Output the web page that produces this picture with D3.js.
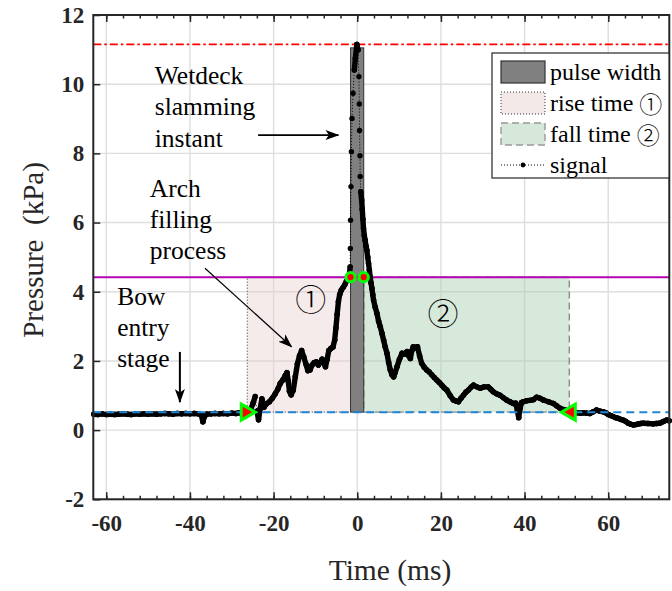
<!DOCTYPE html>
<html>
<head>
<meta charset="utf-8">
<script src="https://cdn.jsdelivr.net/npm/d3@7"></script>
<style>
  body { margin: 0; background: #fff; }
  svg { display: block; }
  text { font-family: "Liberation Serif", "Times New Roman", serif; }
  .circ { font-family: "Noto Sans CJK JP", "Noto Sans CJK SC", serif; font-weight: 300; }
</style>
</head>
<body>
<div id="chart"></div>
<script>
// tick values
const xTicks = [-60, -40, -20, 0, 20, 40, 60];
const xMinorTicks = d3.range(-60, 76, 4);
const yTicks = [-2, 0, 2, 4, 6, 8, 10, 12];

// reference levels (kPa)
const peakLevel = 11.15;
const thresholdLevel = 4.42;
const baseLevel = 0.52;

// time windows (ms)
const pulseWindow = [-1.6, 1.55];
const pulseTop = 11.05;
const riseWindow = [-26.3, -1.6];
const fallWindow = [1.55, 50.7];

// measured signal: [time (ms), pressure (kPa)]
const signal = [
  [-63,0.46],[-62,0.45],[-61,0.47],[-60,0.45],[-59,0.46],[-58,0.45],[-57,0.46],[-56,0.47],[-55,0.46],[-54,0.45],
  [-53,0.47],[-52,0.46],[-51,0.47],[-50,0.46],[-49,0.47],[-48,0.46],[-47,0.47],[-46,0.48],[-45,0.47],[-44,0.46],
  [-43,0.48],[-42,0.47],[-41,0.48],[-40,0.47],[-39,0.48],[-38,0.47],[-37.3,0.45],[-36.9,0.24],[-36.5,0.40],[-36,0.46],
  [-35,0.47],[-34,0.48],[-33,0.47],[-32,0.48],[-31,0.47],[-30,0.49],[-29,0.48],[-28.3,0.50],[-27.5,0.49],[-26.8,0.51],
  [-26,0.53],[-25.4,0.62],[-24.9,0.78],[-24.4,0.97],[-24,0.55],[-23.6,0.30],[-23.2,0.62],[-22.8,0.90],[-22.3,0.66],[-21.8,0.75],
  [-21,0.82],[-20.3,0.92],[-19.6,1.05],[-19,1.18],[-18.4,1.35],[-17.8,1.45],[-17.2,1.58],[-16.8,1.66],[-16.5,1.42],[-16.2,1.12],
  [-15.8,1.02],[-15.3,1.15],[-14.8,1.55],[-14.3,1.92],[-13.8,2.15],[-13.3,2.30],[-12.8,2.12],[-12.3,1.92],[-11.8,1.72],[-11.3,1.74],
  [-10.8,1.88],[-10.3,1.95],[-9.8,1.97],[-9.3,1.88],[-8.8,1.96],[-8.4,2.05],[-8,1.95],[-7.6,1.83],[-7.2,2.05],[-6.8,2.30],
  [-6.3,2.36],[-5.8,2.40],[-5.4,2.60],[-5.1,2.95],[-4.8,3.35],[-4.5,3.72],[-4.2,3.92],[-3.8,4.05],[-3.4,4.12],[-3.0,4.20],
  [-2.6,4.30],[-2.2,4.38],[-1.9,4.45],[-1.7,4.72],[-1.65,5.25],[-1.6,6.07],[-1.5,7.04],[-1.4,8.05],[-1.25,9.01],[-1.0,9.74],
  [-0.7,10.41],[-0.45,10.75],[-0.1,11.15],[0.2,10.99],[0.4,10.22],[0.5,9.43],[0.55,8.66],[0.65,7.93],[0.7,7.33],[0.85,6.89],
  [1.05,6.65],[1.2,6.38],[1.35,6.10],[1.5,5.83],[1.7,5.62],[1.9,5.48],[2.1,5.32],[2.3,5.20],[2.5,5.00],[2.7,4.82],
  [2.9,4.62],[3.1,4.43],[3.3,4.25],[3.5,4.10],[3.7,3.92],[3.9,3.76],[4.3,3.55],[4.7,3.38],[5.1,3.15],[5.5,2.99],
  [5.9,2.80],[6.3,2.60],[6.7,2.40],[7.1,2.22],[7.5,1.96],[7.9,1.74],[8.3,1.60],[8.7,1.54],[9.1,1.68],[9.5,1.83],
  [10.1,2.05],[10.7,2.22],[11.3,2.20],[11.9,2.27],[12.3,2.15],[12.7,2.07],[13.0,2.28],[13.4,2.41],[13.9,2.38],[14.4,2.41],
  [14.9,2.15],[15.4,1.93],[16.0,1.82],[16.6,1.74],[17.2,1.68],[17.8,1.60],[18.4,1.52],[19,1.45],[19.6,1.38],[20.2,1.30],
  [20.8,1.22],[21.4,1.16],[22.2,1.00],[23,0.87],[23.6,0.84],[24.2,0.82],[24.8,0.92],[25.4,1.01],[26,1.10],[26.6,1.16],
  [27.2,1.24],[27.8,1.30],[28.6,1.25],[29.4,1.21],[30.3,1.25],[31.3,1.25],[31.9,1.18],[32.5,1.11],[33.3,1.05],[34.1,1.01],
  [34.9,0.94],[35.7,0.87],[36.5,0.82],[37.3,0.77],[37.9,0.78],[38.3,0.55],[38.6,0.36],[38.9,0.62],[39.3,0.80],[39.7,0.82],
  [40.5,0.85],[41.3,0.86],[42.1,0.88],[42.9,0.95],[43.7,0.92],[44.5,0.87],[45.7,0.82],[46.9,0.77],[47.7,0.70],[48.5,0.63],
  [49.7,0.58],[50.9,0.53],[51.7,0.51],[52.5,0.50],[53.3,0.49],[54,0.50],[54.8,0.49],[55.6,0.48],[56.4,0.53],[57.2,0.58],
  [58,0.55],[58.8,0.53],[59.4,0.50],[60,0.45],[60.6,0.42],[61.2,0.39],[61.8,0.36],[62.4,0.34],[63,0.31],[63.6,0.29],
  [64.2,0.25],[64.8,0.20],[65.4,0.17],[66,0.15],[66.6,0.16],[67.2,0.18],[67.8,0.19],[68.4,0.20],[69.5,0.19],[70.7,0.18],
  [71.5,0.19],[72.3,0.20],[73.2,0.25],[74,0.29],[74.6,0.27]
];

// legend entries: [label, circled number]
const legendLabels = [['pulse width', ''], ['rise time ', '\u2460'], ['fall time ', '\u2461'], ['signal', '']];

const width = 672;
const height = 591;
const margin = { top: 15, right: 2.7, bottom: 91.7, left: 93.3 };

const pink = '#f3e9e9';
const green = '#d5e8da';
const axisColor = '#262626';

const svg = d3.select('#chart')
  .append('svg')
  .attr('width', width)
  .attr('height', height)
  .attr('viewBox', `0 0 ${width} ${height}`);

svg.append('rect').attr('width', width).attr('height', height).attr('fill', '#fff');

const x = d3.scaleLinear().domain([-63.1, 74.6]).range([margin.left, width - margin.right]);
const y = d3.scaleLinear().domain([-2, 12]).range([height - margin.bottom, margin.top]);

// arrow heads
const defs = svg.append('defs');
defs.append('marker')
  .attr('id', 'head')
  .attr('viewBox', '0 0 14 10')
  .attr('refX', 13).attr('refY', 5)
  .attr('markerUnits', 'userSpaceOnUse')
  .attr('markerWidth', 14).attr('markerHeight', 10)
  .attr('orient', 'auto')
  .append('path').attr('d', 'M0,0 L14,5 L0,10 L3.5,5 Z').attr('fill', '#000');

// gridlines
const grid = svg.append('g').attr('stroke', '#dedede').attr('stroke-width', 1.4);
grid.selectAll('.gx').data(xTicks).join('line')
  .attr('x1', d => x(d)).attr('x2', d => x(d))
  .attr('y1', y.range()[0]).attr('y2', y.range()[1]);
grid.selectAll('.gy').data(yTicks).join('line')
  .attr('y1', d => y(d)).attr('y2', d => y(d))
  .attr('x1', x.range()[0]).attr('x2', x.range()[1]);

// rise / fall patches
svg.append('rect')
  .attr('x', x(riseWindow[0])).attr('width', x(riseWindow[1]) - x(riseWindow[0]))
  .attr('y', y(thresholdLevel)).attr('height', y(baseLevel) - y(thresholdLevel))
  .attr('fill', '#e8cccc').attr('fill-opacity', 0.4)
  .attr('stroke', '#333').attr('stroke-width', 1).attr('stroke-dasharray', '1,2');
svg.append('rect')
  .attr('x', x(fallWindow[0])).attr('width', x(fallWindow[1]) - x(fallWindow[0]))
  .attr('y', y(thresholdLevel)).attr('height', y(baseLevel) - y(thresholdLevel))
  .attr('fill', '#a6cfb0').attr('fill-opacity', 0.45)
  .attr('stroke', '#8a8a8a').attr('stroke-width', 1.4).attr('stroke-dasharray', '7,4');

// pulse width bar
svg.append('rect')
  .attr('x', x(pulseWindow[0])).attr('width', x(pulseWindow[1]) - x(pulseWindow[0]))
  .attr('y', y(pulseTop)).attr('height', y(baseLevel) - y(pulseTop))
  .attr('fill', '#808080').attr('stroke', '#333').attr('stroke-width', 1);

// horizontal levels
svg.append('line')
  .attr('x1', x.range()[0]).attr('x2', x.range()[1])
  .attr('y1', y(peakLevel)).attr('y2', y(peakLevel))
  .attr('stroke', '#ff0000').attr('stroke-width', 1.6).attr('stroke-dasharray', '8,3,2.5,3');
svg.append('line')
  .attr('x1', x.range()[0]).attr('x2', x.range()[1])
  .attr('y1', y(thresholdLevel)).attr('y2', y(thresholdLevel))
  .attr('stroke', '#b300b3').attr('stroke-width', 2);

// signal: thick where samples are dense, dotted where they are sparse
const pts = signal.map(([t, p]) => [x(t), y(p)]);
const sig = svg.append('g');
const segs = d3.pairs(pts).filter(([a, b]) => Math.hypot(b[0] - a[0], b[1] - a[1]) < 14);
sig.selectAll('line.thick').data(segs).join('line')
  .attr('class', 'thick')
  .attr('x1', d => d[0][0]).attr('y1', d => d[0][1])
  .attr('x2', d => d[1][0]).attr('y2', d => d[1][1])
  .attr('stroke', '#000').attr('stroke-width', 5.4).attr('stroke-linecap', 'round');
sig.append('path')
  .attr('d', d3.line()(pts))
  .attr('fill', 'none').attr('stroke', '#000').attr('stroke-width', 1).attr('stroke-dasharray', '1,2');
sig.selectAll('circle').data(pts).join('circle')
  .attr('cx', d => d[0]).attr('cy', d => d[1]).attr('r', 2.7).attr('fill', '#000');

// base level
svg.append('line')
  .attr('x1', x.range()[0]).attr('x2', x.range()[1])
  .attr('y1', y(baseLevel)).attr('y2', y(baseLevel))
  .attr('stroke', '#1f86d6').attr('stroke-width', 2).attr('stroke-dasharray', '8,5');

// threshold crossings
svg.selectAll('circle.cross').data(pulseWindow).join('circle')
  .attr('class', 'cross')
  .attr('cx', d => x(d)).attr('cy', y(thresholdLevel)).attr('r', 4.6)
  .attr('fill', '#ff0000').attr('stroke', '#00ff00').attr('stroke-width', 3);

// start / end markers
const tri = [
  { t: riseWindow[0], dir: 1 },
  { t: fallWindow[1], dir: -1 }
];
svg.selectAll('path.tri').data(tri).join('path')
  .attr('class', 'tri')
  .attr('transform', d => `translate(${x(d.t)},${y(baseLevel)}) scale(${d.dir},1)`)
  .attr('d', 'M-6,-8 L8,0 L-6,8 Z')
  .attr('fill', '#ff0000').attr('stroke', '#00ff00').attr('stroke-width', 3)
  .attr('stroke-linejoin', 'miter');

// axes
const gBottom = svg.append('g').attr('transform', `translate(0,${y(-2)})`);
gBottom.call(d3.axisBottom(x).tickValues(xMinorTicks).tickSize(-3.5).tickFormat(''));
gBottom.append('g').call(d3.axisBottom(x).tickValues(xTicks).tickSize(-7).tickPadding(15).tickFormat(d => String(d)));
const gTop = svg.append('g').attr('transform', `translate(0,${y(12)})`);
gTop.call(d3.axisTop(x).tickValues(xMinorTicks).tickSize(-3.5).tickFormat(''));
gTop.append('g').call(d3.axisTop(x).tickValues(xTicks).tickSize(-7).tickFormat(''));
const gLeft = svg.append('g').attr('transform', `translate(${x(-63.1)},0)`);
gLeft.call(d3.axisLeft(y).tickValues(yTicks).tickSize(-7).tickPadding(9).tickFormat(d => String(d)));

svg.selectAll('.domain').remove();
svg.selectAll('.tick line').attr('stroke', axisColor).attr('stroke-width', 1.5);
svg.selectAll('.tick text')
  .attr('fill', axisColor)
  .style('font-family', '"Liberation Serif", serif')
  .style('font-size', '23px')
  .style('font-weight', 'bold');

svg.append('rect')
  .attr('x', x.range()[0]).attr('y', y.range()[1])
  .attr('width', x.range()[1] - x.range()[0]).attr('height', y.range()[0] - y.range()[1])
  .attr('fill', 'none').attr('stroke', axisColor).attr('stroke-width', 2);

// axis titles
svg.append('text')
  .attr('x', 390).attr('y', 580)
  .attr('text-anchor', 'middle')
  .attr('fill', axisColor)
  .style('font-size', '29.5px')
  .text('Time (ms)');
svg.append('text')
  .attr('transform', 'translate(33,250) rotate(-90)')
  .attr('text-anchor', 'middle')
  .attr('dominant-baseline', 'central')
  .attr('fill', axisColor)
  .style('font-size', '29px')
  .style('white-space', 'pre')
  .text('Pressure  (kPa)');

// annotations
function multiline(lines, t, p) {
  const txt = svg.append('text')
    .attr('x', x(t)).attr('y', y(p))
    .attr('fill', '#000')
    .style('font-size', '25.5px');
  lines.forEach((s, i) => {
    txt.append('tspan').attr('x', x(t)).attr('dy', i === 0 ? 0 : 31.3).text(s);
  });
}
multiline(['Wetdeck', 'slamming', 'instant'], -48.4, 10.0);
multiline(['Arch', 'filling', 'process'], -49.6, 6.75);
multiline(['Bow', 'entry', 'stage'], -57.4, 3.62);

function arrow(t1, p1, t2, p2, w) {
  svg.append('line')
    .attr('x1', x(t1)).attr('y1', y(p1))
    .attr('x2', x(t2)).attr('y2', y(p2))
    .attr('stroke', '#000').attr('stroke-width', w)
    .attr('marker-end', 'url(#head)');
}
arrow(-23.7, 8.53, -4.5, 8.53, 1.8);
arrow(-36.4, 4.68, -15.7, 2.41, 1.2);
arrow(-42.4, 2.26, -42.4, 0.81, 2);

svg.append('text')
  .attr('class', 'circ')
  .attr('x', x(-11.1)).attr('y', y(3.82))
  .attr('text-anchor', 'middle').attr('dominant-baseline', 'central')
  .style('font-size', '31px').text('\u2460');
svg.append('text')
  .attr('class', 'circ')
  .attr('x', x(20.5)).attr('y', y(3.44))
  .attr('text-anchor', 'middle').attr('dominant-baseline', 'central')
  .style('font-size', '31px').text('\u2461');

// legend
const lg = svg.append('g');
lg.append('rect')
  .attr('x', 492).attr('y', 53).attr('width', 177).attr('height', 125)
  .attr('fill', '#fff').attr('stroke', axisColor).attr('stroke-width', 1.2);
const rowY = [72, 103, 134, 165];
const sw = lg.selectAll('g.item').data(legendLabels).join('g')
  .attr('class', 'item')
  .attr('transform', (d, i) => `translate(501,${rowY[i]})`);
sw.filter((d, i) => i < 3).append('rect')
  .attr('x', 0).attr('y', -11).attr('width', 44).attr('height', 22)
  .attr('fill', (d, i) => ['#808080', pink, green][i])
  .attr('stroke', (d, i) => ['#333', '#333', '#999'][i])
  .attr('stroke-width', (d, i) => [1.2, 1, 1.4][i])
  .attr('stroke-dasharray', (d, i) => ['none', '1,2', '7,4'][i]);
sw.filter((d, i) => i === 3).append('line')
  .attr('x1', 0).attr('x2', 44).attr('y1', 0).attr('y2', 0)
  .attr('stroke', '#000').attr('stroke-width', 1).attr('stroke-dasharray', '1,2');
sw.filter((d, i) => i === 3).append('circle')
  .attr('cx', 22).attr('cy', 0).attr('r', 2.4).attr('fill', '#000');
const lt = sw.append('text')
  .attr('x', 49).attr('y', 0)
  .attr('dominant-baseline', 'central')
  .attr('fill', '#000')
  .style('font-size', '24px');
lt.append('tspan').text(d => d[0]);
lt.append('tspan').attr('class', 'circ').style('font-size', '23px').text(d => d[1]);
</script>
</body>
</html>
